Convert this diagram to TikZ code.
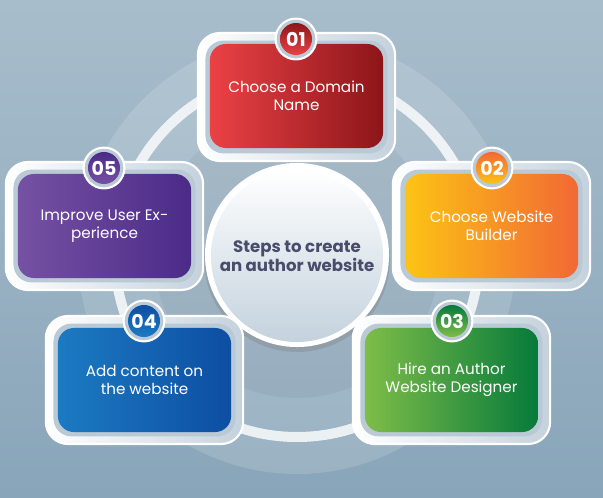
\documentclass[tikz,border=0pt]{standalone}
\usepackage{fontspec}
\setmainfont{Poppins}
\usepackage{tikz}
\usepackage{xcolor}

\definecolor{bgtop}{HTML}{A8BDCC}
\definecolor{bgbot}{HTML}{89A5B9}
\definecolor{framegray}{HTML}{C4D2DD}
\definecolor{gapgray}{HTML}{B9C9D5}
\definecolor{titleink}{HTML}{4A4C6C}
\definecolor{redA}{HTML}{EA4246}\definecolor{redB}{HTML}{8C1519}
\definecolor{orA}{HTML}{FCC414}\definecolor{orB}{HTML}{F26835}
\definecolor{grA}{HTML}{7EBD48}\definecolor{grB}{HTML}{067A3B}
\definecolor{blA}{HTML}{1C7AC2}\definecolor{blB}{HTML}{0D4EA2}
\definecolor{puA}{HTML}{7651A3}\definecolor{puB}{HTML}{4B2B88}

\begin{document}
\begin{tikzpicture}[x=0.025cm, y=-0.025cm,
    stepframe/.style={rounded corners=0.55cm, minimum width=4.93cm, minimum height=3.2cm,
        left color=white, right color=framegray, draw=white, line width=1.5pt},
    stepgap/.style={rounded corners=0.45cm, minimum width=4.55cm, minimum height=2.82cm, fill=gapgray},
    stepbox/.style={rounded corners=0.4cm, minimum width=4.33cm, minimum height=2.6cm,
        text=white, align=center, font=\fontsize{10.8}{12.8}\selectfont},
    badgering/.style={circle, minimum size=1.02cm, fill=gapgray, draw=white, line width=1.5pt},
    badge/.style={circle, minimum size=0.8cm, inner sep=0pt, text=white,
        font=\bfseries\fontsize{13.5}{13.5}\selectfont}]
    \useasboundingbox (0,0) rectangle (603,498);
    \shade[top color=bgtop, bottom color=bgbot] (0,0) rectangle (603,498); % Background
    \fill[white, opacity=.14] (297,255) circle (219); % Outer disc
    \fill[black, opacity=.04] (297,255) circle (143); % Inner disc
    \draw[white, opacity=.8, line width=0.25cm] (297,255) circle (182); % Ring

    % Centre
    \fill[gray, opacity=.35] (297,259) circle (93);
    \node[circle, fill=white, minimum size=4.6cm] (hubrim) at (297,255) {};
    \node[circle, top color=white, bottom color=framegray, minimum size=4.3cm,
        text=titleink, align=center, font=\bfseries\fontsize{11.8}{13.5}\selectfont]
        (hub) at (297,256) {Steps to create\\an author website};

    % Step 01
    \node[stepframe] (f1) at (296.5,97) {};
    \node[stepgap] (g1) at (296.5,97) {};
    \node[stepbox, left color=redA, right color=redB] (s1) at (296.5,96) {Choose a Domain\\Name};
    \node[badgering] (r1) at (296,39) {};
    \node[badge, top color=redB, bottom color=redA] (b1) at (296,39) {01};

    % Step 02
    \node[stepframe] (f2) at (491.5,226) {};
    \node[stepgap] (g2) at (491.5,226) {};
    \node[stepbox, left color=orA, right color=orB] (s2) at (491.5,226) {Choose Website\\Builder};
    \node[badgering] (r2) at (492,168) {};
    \node[badge, top color=orB, bottom color=orA] (b2) at (492,168) {02};

    % Step 03
    \node[stepframe] (f3) at (451.5,380) {};
    \node[stepgap] (g3) at (451.5,380) {};
    \node[stepbox, left color=grA, right color=grB] (s3) at (451.5,380) {Hire an Author\\Website Designer};
    \node[badgering] (r3) at (452,321) {};
    \node[badge, top color=grB, bottom color=grA] (b3) at (452,321) {03};

    % Step 04
    \node[stepframe] (f4) at (144.5,380) {};
    \node[stepgap] (g4) at (144.5,380) {};
    \node[stepbox, left color=blA, right color=blB] (s4) at (144.5,380) {Add content on\\the website};
    \node[badgering] (r4) at (144,321) {};
    \node[badge, top color=blB, bottom color=blA] (b4) at (144,321) {04};

    % Step 05
    \node[stepframe] (f5) at (104.5,226) {};
    \node[stepgap] (g5) at (104.5,226) {};
    \node[stepbox, left color=puA, right color=puB] (s5) at (104.5,226) {Improve User Ex-\\perience};
    \node[badgering] (r5) at (104,168) {};
    \node[badge, top color=puB, bottom color=puA] (b5) at (104,168) {05};
\end{tikzpicture}
\end{document}
